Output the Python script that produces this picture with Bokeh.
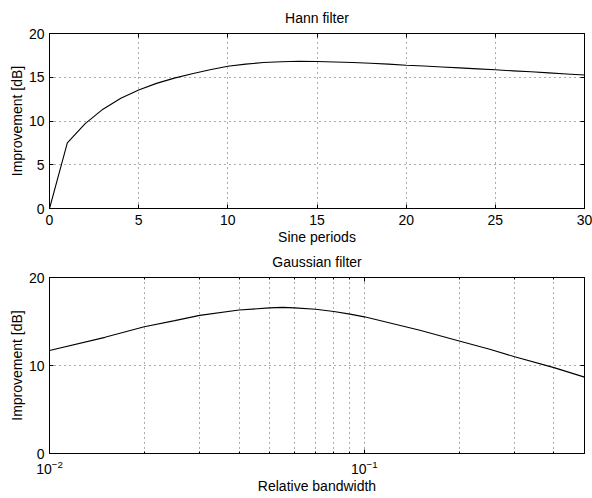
from bokeh.plotting import figure
from bokeh.layouts import column
from bokeh.models import (Range1d, FixedTicker, LinearAxis,
                          LogTickFormatter, CustomLabelingPolicy)
from bokeh.embed import file_html
from bokeh.resources import INLINE

# ---- data ----
periods = list(range(31))
hann_db = [0.0, 7.5, 9.7, 11.35, 12.6, 13.55, 14.3, 14.9, 15.4, 15.85, 16.25,
           16.5, 16.68, 16.78, 16.82, 16.8, 16.75, 16.68, 16.6, 16.5, 16.38,
           16.28, 16.18, 16.07, 15.96, 15.85, 15.73, 15.62, 15.5, 15.38, 15.25]

bandwidth = [0.01, 0.015, 0.02, 0.025, 0.03, 0.04, 0.05, 0.055, 0.06, 0.07, 0.08,
             0.09, 0.1, 0.15, 0.2, 0.25, 0.3, 0.4, 0.5]
gauss_db = [11.7, 13.2, 14.4, 15.1, 15.7, 16.3, 16.55, 16.6, 16.55, 16.4, 16.14,
            15.84, 15.53, 14.0, 12.78, 11.85, 11.0, 9.76, 8.68]

hann_xticks = [0, 5, 10, 15, 20, 25, 30]
hann_yticks = [0, 5, 10, 15, 20]
gauss_xticks = [0.01, 0.1]
gauss_xminor = [0.02, 0.03, 0.04, 0.05, 0.06, 0.07, 0.08, 0.09, 0.2, 0.3, 0.4]
gauss_yticks = [0, 10, 20]

FONT = "Liberation Sans"


def style_axis(ax):
    ax.axis_label_text_font = FONT
    ax.axis_label_text_font_size = "14px"
    ax.axis_label_text_font_style = "normal"
    ax.axis_label_text_color = "black"
    ax.major_label_text_font = FONT
    ax.major_label_text_font_size = "14px"
    ax.major_label_text_color = "black"
    ax.axis_line_color = "black"
    ax.major_tick_line_color = "black"
    ax.minor_tick_line_color = "black"
    ax.major_tick_in = 4
    ax.major_tick_out = 0
    ax.minor_tick_in = 2
    ax.minor_tick_out = 0
    ax.major_label_standoff = 5
    ax.axis_label_standoff = 3


def mirror_axis(ticker):
    # tick marks only (no labels), like a boxed plot
    ax = LinearAxis(ticker=ticker)
    style_axis(ax)
    ax.major_label_text_font_size = "1px"
    ax.major_label_standoff = 0
    ax.axis_label_standoff = 0
    ax.major_label_policy = CustomLabelingPolicy(code="return new Set()")
    return ax


def style_fig(p):
    p.title.align = "center"
    p.title.text_font = FONT
    p.title.text_font_size = "14px"
    p.title.text_font_style = "normal"
    p.title.text_color = "black"
    p.title.standoff = 8
    p.outline_line_color = "black"
    p.outline_line_alpha = 1.0
    p.grid.grid_line_color = "black"
    p.grid.grid_line_alpha = 0.65
    p.grid.grid_line_dash = "1 4"
    p.grid.grid_line_width = 1
    for ax in p.axis:
        style_axis(ax)
    p.yaxis.axis_label_standoff = 1
    p.xaxis.major_label_standoff = 6
    p.xaxis.axis_label_standoff = 1


# ---- top: Hann filter ----
p1 = figure(width=592, height=247, title="Hann filter",
            x_range=Range1d(0, 30), y_range=Range1d(0, 20),
            output_backend="svg", toolbar_location=None,
            min_border_left=49, min_border_right=8,
            min_border_top=33, min_border_bottom=39)
p1.line(periods, hann_db, line_color="black", line_width=1.1)
p1.xaxis.ticker = FixedTicker(ticks=hann_xticks)
p1.yaxis.ticker = FixedTicker(ticks=hann_yticks)
p1.xaxis.axis_label = "Sine periods"
p1.yaxis.axis_label = "Improvement [dB]"
style_fig(p1)
p1.add_layout(mirror_axis(FixedTicker(ticks=hann_xticks)), "above")
p1.add_layout(mirror_axis(FixedTicker(ticks=hann_yticks)), "right")

# ---- bottom: Gaussian filter ----
p2 = figure(width=592, height=251, title="Gaussian filter",
            x_axis_type="log",
            x_range=Range1d(0.01, 0.5), y_range=Range1d(0, 20),
            output_backend="svg", toolbar_location=None,
            min_border_left=49, min_border_right=8,
            min_border_top=30, min_border_bottom=45)
p2.line(bandwidth, gauss_db, line_color="black", line_width=1.1)
p2.xaxis.ticker = FixedTicker(ticks=gauss_xticks, minor_ticks=gauss_xminor)
p2.xaxis.formatter = LogTickFormatter()
p2.yaxis.ticker = FixedTicker(ticks=gauss_yticks)
p2.xaxis.axis_label = "Relative bandwidth"
p2.yaxis.axis_label = "Improvement [dB]"
style_fig(p2)
p2.yaxis.minor_tick_in = 0
p2.xgrid.minor_grid_line_color = "black"
p2.xgrid.minor_grid_line_alpha = 0.65
p2.xgrid.minor_grid_line_dash = "1 4"
p2.add_layout(mirror_axis(FixedTicker(ticks=gauss_xticks,
                                      minor_ticks=gauss_xminor)), "above")
p2.add_layout(mirror_axis(FixedTicker(ticks=gauss_yticks)), "right")

p = column(p1, p2)
p.background = "white"

open("out.html", "w").write(file_html(p, INLINE))
